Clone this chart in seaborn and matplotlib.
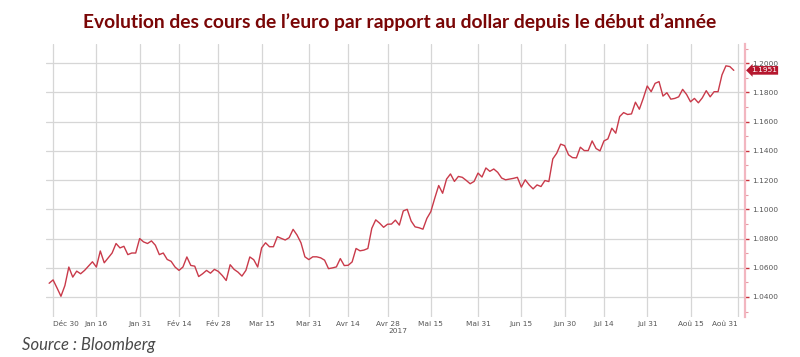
import numpy as np
import pandas as pd
import matplotlib
matplotlib.use("Agg")
import matplotlib.pyplot as plt
import matplotlib.transforms as mtransforms
from matplotlib.ticker import MultipleLocator
import seaborn as sns

# EUR/USD closes, business days from 29 Dec 2016 to 30 Aug 2017
dates = pd.bdate_range("2016-12-29", "2017-08-30")
eurusd = [
    # Dec
    1.0494, 1.0517,
    # Jan
    1.0462, 1.0405, 1.0478, 1.0605, 1.0536, 1.0577, 1.0559, 1.0582, 1.0611, 1.0641,
    1.0605, 1.0715, 1.0634, 1.0667, 1.0701, 1.0766, 1.0736, 1.0747, 1.0690, 1.0701,
    1.0701, 1.0800,
    # Feb
    1.0777, 1.0766, 1.0784, 1.0754, 1.0690, 1.0701, 1.0657, 1.0644, 1.0605, 1.0582,
    1.0605, 1.0674, 1.0616, 1.0611, 1.0540, 1.0559, 1.0582, 1.0563, 1.0589, 1.0575,
    # Mar
    1.0547, 1.0513, 1.0621, 1.0589, 1.0570, 1.0543, 1.0582, 1.0674, 1.0655, 1.0605,
    1.0736, 1.0771, 1.0744, 1.0744, 1.0813, 1.0801, 1.0790, 1.0806, 1.0863, 1.0824,
    1.0771, 1.0675, 1.0656,
    # Apr
    1.0675, 1.0675, 1.0668, 1.0652, 1.0594, 1.0599, 1.0606, 1.0663, 1.0615, 1.0617,
    1.0640, 1.0732, 1.0716, 1.0721, 1.0732, 1.0870, 1.0928, 1.0905, 1.0877, 1.0898,
    # May
    1.0899, 1.0926, 1.0892, 1.0989, 1.1000, 1.0920, 1.0880, 1.0874, 1.0864, 1.0938,
    1.0984, 1.1076, 1.1163, 1.1110, 1.1207, 1.1242, 1.1191, 1.1225, 1.1219, 1.1198,
    1.1175, 1.1191, 1.1248,
    # Jun
    1.1221, 1.1283, 1.1260, 1.1276, 1.1253, 1.1214, 1.1202, 1.1207, 1.1212, 1.1219,
    1.1152, 1.1202, 1.1167, 1.1140, 1.1167, 1.1156, 1.1197, 1.1190, 1.1345, 1.1384,
    1.1446, 1.1436,
    # Jul
    1.1373, 1.1354, 1.1352, 1.1425, 1.1402, 1.1402, 1.1468, 1.1416, 1.1400, 1.1468,
    1.1482, 1.1555, 1.1521, 1.1635, 1.1662, 1.1649, 1.1653, 1.1733, 1.1685, 1.1760,
    1.1844,
    # Aug
    1.1805, 1.1862, 1.1874, 1.1775, 1.1798, 1.1754, 1.1759, 1.1770, 1.1821, 1.1786,
    1.1736, 1.1759, 1.1729, 1.1763, 1.1812, 1.1770, 1.1805, 1.1805, 1.1920, 1.1982,
    1.1977, 1.1951,
]

tick_dates = ["2016-12-30", "2017-01-16", "2017-01-31", "2017-02-14", "2017-02-28",
              "2017-03-15", "2017-03-31", "2017-04-14", "2017-04-28", "2017-05-15",
              "2017-05-31", "2017-06-15", "2017-06-30", "2017-07-14", "2017-07-31",
              "2017-08-15", "2017-08-31"]
tick_labels = ["Déc 30", "Jan 16", "Jan 31", "Fév 14", "Fév 28", "Mar 15", "Mar 31",
               "Avr 14", "Avr 28", "Mai 15", "Mai 31", "Jun 15", "Jun 30", "Jul 14",
               "Jul 31", "Aoû 15", "Aoû 31"]
y_ticks = [1.04, 1.06, 1.08, 1.10, 1.12, 1.14, 1.16, 1.18, 1.20]

title = "Evolution des cours de l\u2019euro par rapport au dollar depuis le début d\u2019année"
source = "Source : Bloomberg"

# x axis counts trading days (weekends skipped, like the Bloomberg chart)
start = np.datetime64("2016-12-29")
df = pd.DataFrame({"date": dates, "eurusd": eurusd})
df["pos"] = np.busday_count(start, df["date"].values.astype("datetime64[D]"))
tick_pos = np.busday_count(start, np.array(tick_dates, dtype="datetime64[D]"))

sns.set_style("white")
plt.rcParams["font.family"] = ["DejaVu Sans"]

fig = plt.figure(figsize=(8, 3.57), dpi=100)
ax = fig.add_axes([0.0575, 0.112, 0.874, 0.765])

sns.lineplot(data=df, x="pos", y="eurusd", ax=ax, color="#c93a4a", linewidth=1.0)

ax.set_xlim(-0.8, 176.9)
ax.set_ylim(1.0263, 1.2132)
ax.set_xlabel("")
ax.set_ylabel("")

ax.set_xticks(tick_pos)
ax.set_xticklabels(tick_labels)
xl = ax.get_xticklabels()
xl[0].set_horizontalalignment("left")
xl[-1].set_horizontalalignment("right")

ax.yaxis.tick_right()
ax.set_yticks(y_ticks)
ax.set_yticklabels([f"{v:.4f}" for v in y_ticks])
ax.yaxis.set_minor_locator(MultipleLocator(0.01))

ax.grid(True, which="major", color="#d6d6d6", linewidth=0.9)
for s in ["top", "left", "bottom"]:
    ax.spines[s].set_visible(False)
ax.spines["right"].set_color("#f2b6c0")
ax.spines["right"].set_linewidth(1.6)

ax.tick_params(axis="x", length=0, labelsize=5.3, labelcolor="#555555", pad=3)
ax.tick_params(axis="y", which="major", length=3, width=1, color="#c8323c",
               labelsize=5.3, labelcolor="#555555", pad=2)
ax.tick_params(axis="y", which="minor", length=2, width=0.8, color="#e89aa5")

# year marker under "Avr 28"
apr28 = tick_pos[tick_labels.index("Avr 28")]
trans = mtransforms.blended_transform_factory(ax.transData, ax.transAxes)
ax.text(apr28 + 2.7, -0.052, "2017", transform=trans, ha="center", va="center",
        fontsize=5.3, color="#555555")

# last value flag
trans_y = mtransforms.blended_transform_factory(ax.transAxes, ax.transData)
ax.text(1.008, eurusd[-1], f"{eurusd[-1]:.4f}", transform=trans_y, ha="left", va="center",
        fontsize=5.3, color="white",
        bbox=dict(boxstyle="larrow,pad=0.18", fc="#b5172e", ec="none"))

fig.text(0.5, 1 - 22 / 357, title, ha="center", va="center", fontsize=13.9,
         fontweight="bold", color="#7a0606", family=["Lato", "DejaVu Sans"])
fig.text(22 / 800, 1 - 345 / 357, source, ha="left", va="center", fontsize=12,
         style="italic", color="#4a4a4a", family=["Lato", "DejaVu Sans"])

fig.savefig("out.png", dpi=100)
